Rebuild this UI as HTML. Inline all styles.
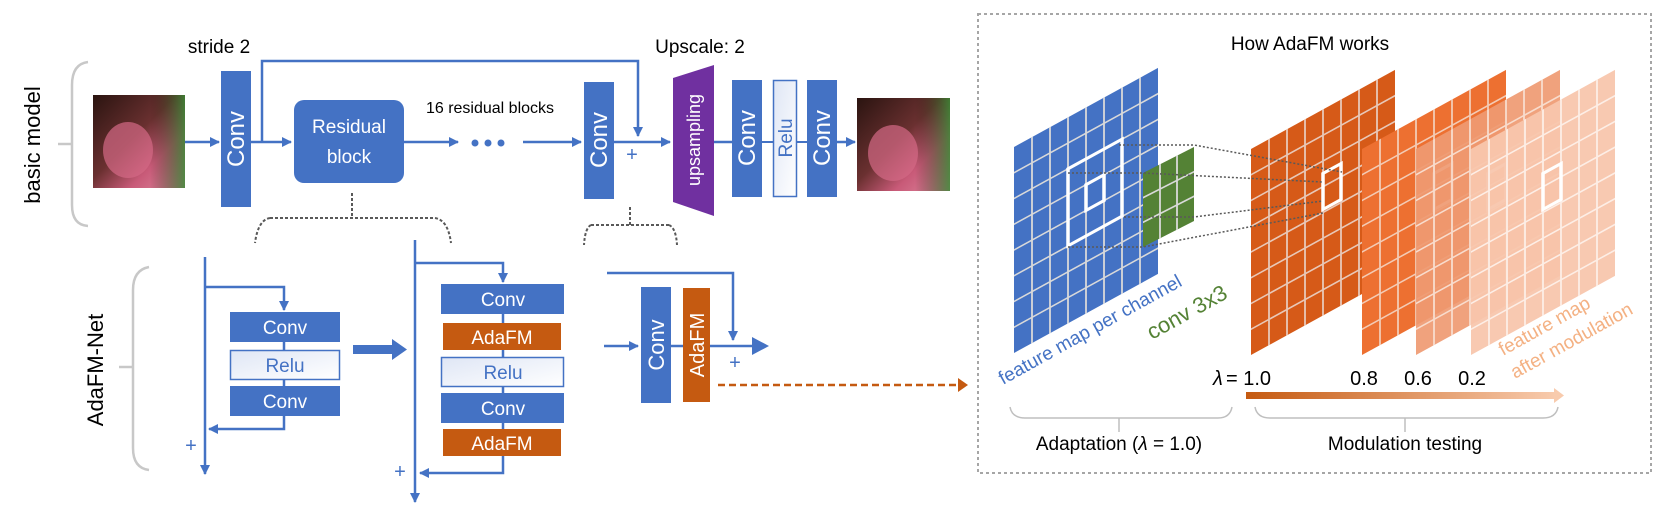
<!DOCTYPE html>
<html><head><meta charset="utf-8"><style>
html,body{margin:0;padding:0;background:#fff;}
svg{display:block;}
text{font-family:"Liberation Sans",sans-serif;}
</style></head><body>
<svg width="1668" height="509" viewBox="0 0 1668 509" xmlns="http://www.w3.org/2000/svg">
<defs>
<marker id="ab" viewBox="0 0 10 10" refX="9" refY="5" markerWidth="4" markerHeight="4" orient="auto" markerUnits="strokeWidth"><path d="M0 0L10 5L0 10z" fill="#4472c4"/></marker>
<linearGradient id="relu" x1="0" y1="0" x2="1" y2="1"><stop offset="0" stop-color="#dfe6f5"/><stop offset="1" stop-color="#ffffff"/></linearGradient>
<linearGradient id="lam" x1="0" x2="1"><stop offset="0" stop-color="#c55a11"/><stop offset="1" stop-color="#f8cbad"/></linearGradient>
<linearGradient id="face" x1="0" y1="0" x2="1" y2="1"><stop offset="0" stop-color="#2a1410"/><stop offset="0.45" stop-color="#6a3030"/><stop offset="0.7" stop-color="#c85a78"/><stop offset="1" stop-color="#e08aa0"/></linearGradient>
<linearGradient id="bg" x1="0" x2="1"><stop offset="0" stop-color="#2a1a10" stop-opacity="0"/><stop offset="1" stop-color="#2f8a2f"/></linearGradient>
</defs>

<text x="219" y="53" font-size="19" text-anchor="middle">stride 2</text>
<text x="700" y="53" font-size="19" text-anchor="middle">Upscale: 2</text>
<text transform="translate(40,145) rotate(-90)" font-size="22" text-anchor="middle">basic model</text>
<path d="M88 62 Q72 64 72 85 V205 Q72 225 88 226" fill="none" stroke="#c8c8c8" stroke-width="2.5"/>
<path d="M58 144 H72" stroke="#c8c8c8" stroke-width="2.5"/>

<rect x="93" y="95" width="92" height="93" fill="url(#face)"/>
<rect x="150" y="95" width="35" height="93" fill="url(#bg)" opacity="0.8"/>
<ellipse cx="128" cy="150" rx="25" ry="28" fill="#d46a86" opacity="0.7"/>
<rect x="857" y="98" width="93" height="93" fill="url(#face)"/>
<rect x="915" y="98" width="35" height="93" fill="url(#bg)" opacity="0.8"/>
<ellipse cx="893" cy="153" rx="25" ry="28" fill="#d46a86" opacity="0.7"/>

<g stroke="#4472c4" stroke-width="2.5" fill="none">
<path d="M185 142 H219" marker-end="url(#ab)"/>
<path d="M251 142 H291" marker-end="url(#ab)"/>
<path d="M262 142 V61 H638 V136" marker-end="url(#ab)"/>
<path d="M404 142 H458" marker-end="url(#ab)"/>
<path d="M523 142 H581" marker-end="url(#ab)"/>
<path d="M614 142 H670" marker-end="url(#ab)"/>
<path d="M714 142 H732"/>
<path d="M836 142 H855" marker-end="url(#ab)"/>
</g>
<circle cx="475" cy="143" r="3.5" fill="#4472c4"/><circle cx="488" cy="143" r="3.5" fill="#4472c4"/><circle cx="501" cy="143" r="3.5" fill="#4472c4"/>
<text x="632" y="161" font-size="20" fill="#4472c4" text-anchor="middle">+</text>

<rect x="221" y="71" width="30" height="136" fill="#4472c4"/>
<text transform="translate(244,139) rotate(-90)" font-size="24" fill="#fff" text-anchor="middle">Conv</text>
<rect x="294" y="100" width="110" height="83" rx="10" fill="#4472c4"/>
<text x="349" y="133" font-size="19" fill="#fff" text-anchor="middle">Residual</text>
<text x="349" y="163" font-size="19" fill="#fff" text-anchor="middle">block</text>
<text x="490" y="113" font-size="16" text-anchor="middle">16 residual blocks</text>
<rect x="584" y="82" width="30" height="117" fill="#4472c4"/>
<text transform="translate(607,140) rotate(-90)" font-size="24" fill="#fff" text-anchor="middle">Conv</text>
<path d="M673 78 L714 65 L714 216 L673 202 Z" fill="#7030a0"/>
<text transform="translate(700,140) rotate(-90)" font-size="18" fill="#fff" text-anchor="middle">upsampling</text>
<rect x="732" y="80" width="30" height="117" fill="#4472c4"/>
<text transform="translate(755,138) rotate(-90)" font-size="24" fill="#fff" text-anchor="middle">Conv</text>
<rect x="773.5" y="80.5" width="23" height="116" fill="url(#relu)" stroke="#4472c4" stroke-width="1.5"/>
<text transform="translate(792,138) rotate(-90)" font-size="19" fill="#4472c4" text-anchor="middle">Relu</text>
<rect x="762" y="141" width="11" height="2" fill="#4472c4"/><rect x="797" y="141" width="10" height="2" fill="#4472c4"/>
<rect x="807" y="80" width="30" height="117" fill="#4472c4"/>
<text transform="translate(830,138) rotate(-90)" font-size="24" fill="#fff" text-anchor="middle">Conv</text>

<g stroke="#595959" stroke-width="2" fill="none" stroke-dasharray="3,2">
<path d="M352 193 V218 M270 218 H435 M270 218 Q258 220 255 243 M435 218 Q448 220 451 243"/>
<path d="M630 207 V225 M591 225 H669 M591 225 Q585 228 584 245 M669 225 Q676 228 677 245"/>
</g>

<text transform="translate(103,370) rotate(-90)" font-size="22" text-anchor="middle">AdaFM-Net</text>
<path d="M149 267 Q133 270 133 290 V448 Q133 468 149 470" fill="none" stroke="#c8c8c8" stroke-width="2.5"/>
<path d="M119 367 H133" stroke="#c8c8c8" stroke-width="2.5"/>

<g stroke="#4472c4" stroke-width="2.5" fill="none">
<path d="M205 257 V474" marker-end="url(#ab)"/>
<path d="M205 287 H284 V310" marker-end="url(#ab)"/>
<path d="M284 342 V386 M284 416 V429 H209" marker-end="url(#ab)"/>
<path d="M415 240 V502" marker-end="url(#ab)"/>
<path d="M415 263 H503 V282" marker-end="url(#ab)"/>
<path d="M503 314 V429 M503 456 V473 H420" marker-end="url(#ab)"/>
<path d="M607 273 H733 V340" marker-end="url(#ab)"/>
<path d="M604 346 H638" marker-end="url(#ab)"/>
<path d="M671 346 H683 M710 346 H755"/>
</g>
<path d="M752 337 L769 346 L752 355 Z" fill="#4472c4"/>
<rect x="353" y="345" width="40" height="9" fill="#4472c4"/>
<path d="M392 339 L407 349.5 L392 360 Z" fill="#4472c4"/>

<text x="191" y="452" font-size="20" fill="#4472c4" text-anchor="middle">+</text>
<text x="400" y="478" font-size="20" fill="#4472c4" text-anchor="middle">+</text>
<text x="735" y="369" font-size="20" fill="#4472c4" text-anchor="middle">+</text>

<rect x="230" y="312" width="110" height="30" fill="#4472c4"/>
<text x="285" y="334" font-size="19" fill="#fff" text-anchor="middle">Conv</text>
<rect x="230.5" y="350.5" width="109" height="29" fill="url(#relu)" stroke="#4472c4" stroke-width="1.5"/>
<text x="285" y="372" font-size="19" fill="#4472c4" text-anchor="middle">Relu</text>
<rect x="230" y="386" width="110" height="30" fill="#4472c4"/>
<text x="285" y="408" font-size="19" fill="#fff" text-anchor="middle">Conv</text>

<rect x="441" y="284" width="123" height="30" fill="#4472c4"/>
<text x="503" y="306" font-size="19" fill="#fff" text-anchor="middle">Conv</text>
<rect x="443" y="323" width="118" height="27" fill="#c55a11"/>
<text x="502" y="344" font-size="19" fill="#fff" text-anchor="middle">AdaFM</text>
<rect x="441.5" y="357.5" width="122" height="29" fill="url(#relu)" stroke="#4472c4" stroke-width="1.5"/>
<text x="503" y="379" font-size="19" fill="#4472c4" text-anchor="middle">Relu</text>
<rect x="441" y="393" width="123" height="30" fill="#4472c4"/>
<text x="503" y="415" font-size="19" fill="#fff" text-anchor="middle">Conv</text>
<rect x="443" y="429" width="118" height="27" fill="#c55a11"/>
<text x="502" y="450" font-size="19" fill="#fff" text-anchor="middle">AdaFM</text>

<rect x="641" y="287" width="30" height="116" fill="#4472c4"/>
<text transform="translate(664,345) rotate(-90)" font-size="22" fill="#fff" text-anchor="middle">Conv</text>
<rect x="683" y="288" width="27" height="114" fill="#c55a11"/>
<text transform="translate(704,345) rotate(-90)" font-size="20" fill="#fff" text-anchor="middle">AdaFM</text>

<path d="M718 385 H960" stroke="#c55a11" stroke-width="2.5" stroke-dasharray="7,4" fill="none"/>
<path d="M958 378 L968 385 L958 392 Z" fill="#c55a11"/>

<rect x="978" y="14" width="673" height="459" fill="none" stroke="#a6a6a6" stroke-width="2" stroke-dasharray="3,3"/>
<text x="1310" y="50" font-size="19" text-anchor="middle">How AdaFM works</text>

<g transform="translate(1014,147) skewY(-28.77)">
<rect width="144" height="206" fill="#4472c4"/>
<path d="M18 0V206M36 0V206M54 0V206M72 0V206M90 0V206M108 0V206M126 0V206M0 25.75H144M0 51.5H144M0 77.25H144M0 103H144M0 128.75H144M0 154.5H144M0 180.25H144" stroke="#d9d9d9" stroke-width="1.8"/>
<rect x="54" y="51.5" width="54" height="77" fill="none" stroke="#fff" stroke-width="3.5"/>
<rect x="72" y="77.25" width="18" height="25.75" fill="none" stroke="#fff" stroke-width="3.5"/>
</g>
<g transform="translate(1143,173) skewY(-27)">
<rect width="51" height="74" fill="#548235"/>
<path d="M17 0V74M34 0V74M0 24.7H51M0 49.3H51" stroke="#d9d9d9" stroke-width="1.8"/>
</g>

<g transform="translate(1251,149) skewY(-28.77)">
<rect width="144" height="206" fill="#d65a18"/>
<path d="M18 0V206M36 0V206M54 0V206M72 0V206M90 0V206M108 0V206M126 0V206M0 25.75H144M0 51.5H144M0 77.25H144M0 103H144M0 128.75H144M0 154.5H144M0 180.25H144" stroke="#e8c8b8" stroke-width="1.8"/>
<rect x="72" y="64" width="18" height="36" fill="none" stroke="#fff" stroke-width="3.5"/>
</g>
<g transform="translate(1362,149) skewY(-28.77)">
<rect width="144" height="206" fill="#ed7031"/>
<path d="M18 0V206M36 0V206M54 0V206M72 0V206M90 0V206M108 0V206M126 0V206M0 25.75H144M0 51.5H144M0 77.25H144M0 103H144M0 128.75H144M0 154.5H144M0 180.25H144" stroke="#f3cbb5" stroke-width="1.8"/>
<rect x="72" y="64" width="18" height="36" fill="none" stroke="#fff" stroke-width="3.5"/>
</g>
<g transform="translate(1416,149) skewY(-28.77)">
<rect width="144" height="206" fill="#ef9a72" opacity="0.92"/>
<path d="M18 0V206M36 0V206M54 0V206M72 0V206M90 0V206M108 0V206M126 0V206M0 25.75H144M0 51.5H144M0 77.25H144M0 103H144M0 128.75H144M0 154.5H144M0 180.25H144" stroke="#f8dccd" stroke-width="1.8"/>
<rect x="72" y="64" width="18" height="36" fill="none" stroke="#fff" stroke-width="3.5"/>
</g>
<g transform="translate(1471,149) skewY(-28.77)">
<rect width="144" height="206" fill="#f8c6ad" opacity="0.95"/>
<path d="M18 0V206M36 0V206M54 0V206M72 0V206M90 0V206M108 0V206M126 0V206M0 25.75H144M0 51.5H144M0 77.25H144M0 103H144M0 128.75H144M0 154.5H144M0 180.25H144" stroke="#fdeee6" stroke-width="1.8"/>
<rect x="72" y="64" width="18" height="36" fill="none" stroke="#fff" stroke-width="3.5"/>
</g>

<g stroke="#595959" stroke-width="1.5" fill="none" stroke-dasharray="2,2">
<path d="M1119 145 H1194 L1342 172"/>
<path d="M1068 173 H1143 L1323 182"/>
<path d="M1124 217 H1194 L1323 201"/>
<path d="M1068 247 H1143 L1323 213"/>
</g>

<text transform="translate(1003,385) rotate(-29)" font-size="19" fill="#4472c4">feature map per channel</text>
<text transform="translate(1152,340) rotate(-29)" font-size="22" fill="#548235">conv 3x3</text>
<text transform="translate(1503,356) rotate(-29)" font-size="19" fill="#f4b183">feature map</text>
<text transform="translate(1515,379) rotate(-29)" font-size="19" fill="#f4b183">after modulation</text>

<text x="1213" y="385" font-family="Liberation Serif, serif" font-size="20" font-style="italic">λ</text>
<text x="1226" y="385" font-family="Liberation Serif, serif" font-size="20">= 1.0</text>
<text x="1364" y="385" font-family="Liberation Serif, serif" font-size="20" text-anchor="middle">0.8</text>
<text x="1418" y="385" font-family="Liberation Serif, serif" font-size="20" text-anchor="middle">0.6</text>
<text x="1472" y="385" font-family="Liberation Serif, serif" font-size="20" text-anchor="middle">0.2</text>
<rect x="1246" y="392" width="310" height="7" fill="url(#lam)"/>
<path d="M1554 388 L1564 395.5 L1554 403 Z" fill="#f8cbad"/>

<g stroke="#bfbfbf" stroke-width="1.5" fill="none">
<path d="M1010 407 Q1012 418 1025 418 H1218 Q1230 418 1232 407 M1119 418 V432"/>
<path d="M1255 407 Q1257 418 1270 418 H1543 Q1556 418 1558 407 M1405 418 V432"/>
</g>
<text x="1119" y="450" font-size="19" text-anchor="middle">Adaptation (<tspan font-style="italic">λ</tspan> = 1.0)</text>
<text x="1405" y="450" font-size="19" text-anchor="middle">Modulation testing</text>
</svg>
</body></html>
